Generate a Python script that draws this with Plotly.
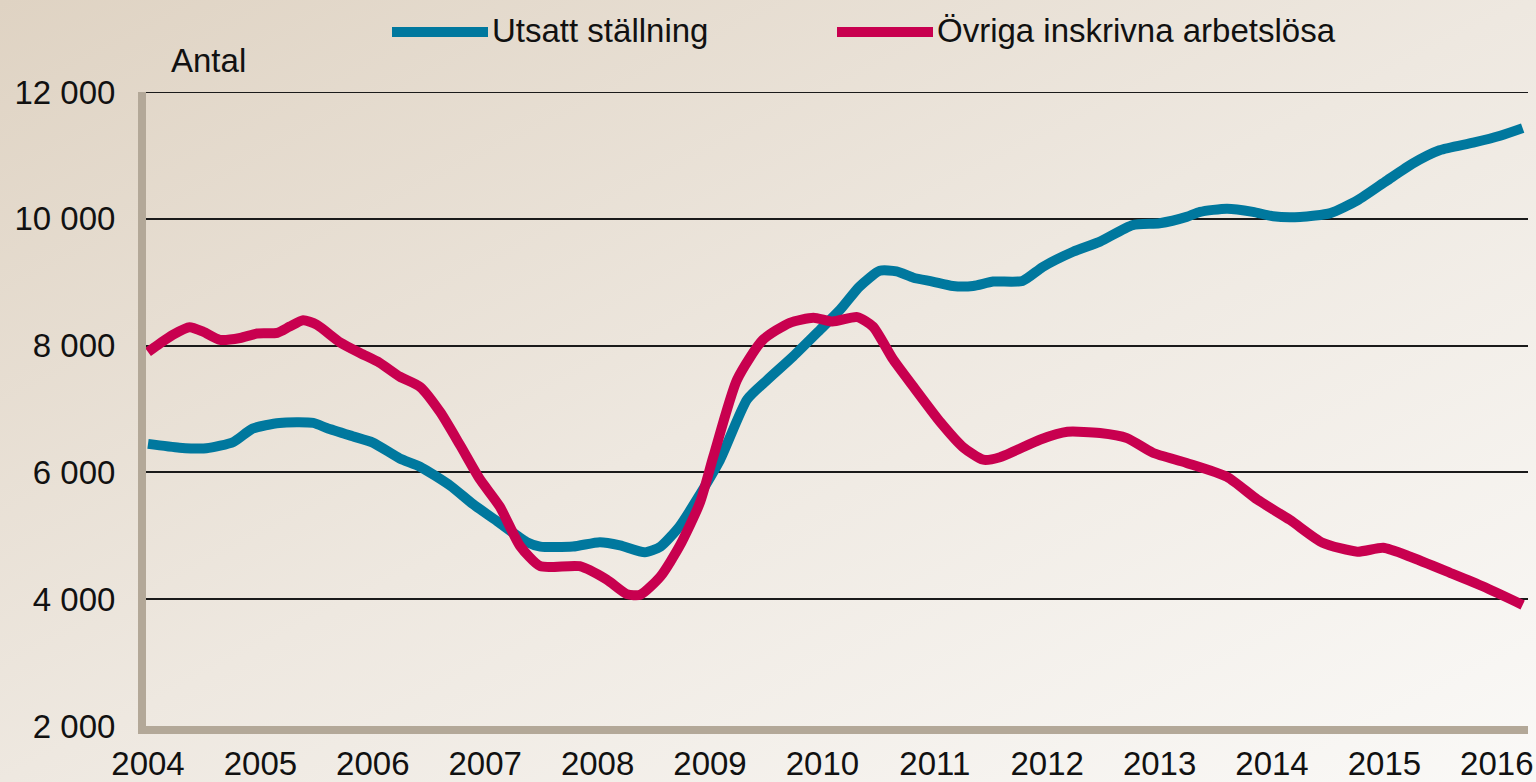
import base64

import plotly.graph_objects as go

# decimal years
utsatt_t = [2004.00, 2004.28, 2004.52, 2004.76, 2004.93, 2005.17, 2005.47, 2005.59, 2005.82, 2006.00,
            2006.24, 2006.42, 2006.69, 2006.89, 2007.13, 2007.37, 2007.49, 2007.78, 2008.02, 2008.20,
            2008.42, 2008.56, 2008.73, 2008.91, 2009.09, 2009.33, 2009.51, 2009.74, 2009.98, 2010.16,
            2010.33, 2010.51, 2010.66, 2010.81, 2010.98, 2011.16, 2011.34, 2011.52, 2011.78, 2011.96,
            2012.23, 2012.47, 2012.76, 2013.00, 2013.24, 2013.36, 2013.60, 2013.83, 2014.01, 2014.25,
            2014.52, 2014.76, 2015.02, 2015.25, 2015.49, 2015.79, 2016.03, 2016.23]
utsatt_v = [6450, 6390, 6380, 6480, 6690, 6780, 6780, 6700, 6570, 6470,
            6220, 6090, 5790, 5500, 5200, 4900, 4830, 4830, 4900, 4850,
            4740, 4830, 5150, 5650, 6200, 7150, 7460, 7830, 8250, 8570,
            8930, 9180, 9170, 9070, 9010, 8940, 8940, 9010, 9020, 9240,
            9480, 9640, 9900, 9930, 10030, 10110, 10160, 10110, 10040, 10030,
            10090, 10290, 10600, 10870, 11080, 11200, 11310, 11430]

ovriga_t = [2004.00, 2004.11, 2004.22, 2004.37, 2004.49, 2004.64, 2004.82, 2004.97, 2005.15, 2005.26,
            2005.38, 2005.50, 2005.71, 2005.89, 2006.06, 2006.24, 2006.42, 2006.60, 2006.78, 2006.95,
            2007.13, 2007.31, 2007.49, 2007.84, 2008.08, 2008.26, 2008.38, 2008.56, 2008.73, 2008.91,
            2009.03, 2009.24, 2009.47, 2009.71, 2009.92, 2010.09, 2010.31, 2010.45, 2010.63, 2010.81,
            2011.05, 2011.25, 2011.43, 2011.58, 2011.94, 2012.18, 2012.47, 2012.71, 2012.94, 2013.24,
            2013.60, 2013.87, 2014.16, 2014.45, 2014.76, 2014.99, 2015.23, 2015.58, 2015.88, 2016.23]
ovriga_v = [7900, 8040, 8170, 8290, 8220, 8090, 8120, 8190, 8200, 8300,
            8400, 8330, 8050, 7880, 7730, 7510, 7350, 6950, 6420, 5900,
            5460, 4840, 4520, 4520, 4310, 4080, 4070, 4360, 4840, 5520,
            6250, 7460, 8090, 8360, 8440, 8380, 8450, 8300, 7780, 7350,
            6790, 6400, 6200, 6240, 6520, 6640, 6620, 6540, 6310, 6150,
            5930, 5570, 5250, 4890, 4750, 4810, 4670, 4420, 4200, 3910]

years = list(range(2004, 2017))
y_ticks = [2000, 4000, 6000, 8000, 10000, 12000]

BLUE = "#00789e"
RED = "#c8004f"
FONT = "Liberation Sans, Arial, sans-serif"
FS = 33

W, H = 1536, 782
ML, MR, MT, MB = 146, 8, 92, 56
PW, PH = W - ML - MR, H - MT - MB

bg_svg = (
    f'<svg xmlns="http://www.w3.org/2000/svg" width="{W}" height="{H}">'
    '<defs><linearGradient id="g" x1="0" y1="0" x2="1" y2="1">'
    '<stop offset="0" stop-color="#dfd3c3"/>'
    '<stop offset="0.5" stop-color="#eee8e0"/>'
    '<stop offset="1" stop-color="#faf9f7"/>'
    '</linearGradient></defs>'
    f'<rect width="{W}" height="{H}" fill="url(#g)"/></svg>'
)
bg_src = "data:image/svg+xml;base64," + base64.b64encode(bg_svg.encode()).decode()


def px_x(p):
    return (p - ML) / PW


def px_y(p):
    return (H - MB - p) / PH


fig = go.Figure()
fig.add_trace(go.Scatter(x=utsatt_t, y=utsatt_v, mode="lines", name="Utsatt ställning",
                         line=dict(color=BLUE, width=10, shape="spline", smoothing=0.6)))
fig.add_trace(go.Scatter(x=ovriga_t, y=ovriga_v, mode="lines", name="Övriga inskrivna arbetslösa",
                         line=dict(color=RED, width=10, shape="spline", smoothing=0.6)))

# hand-made legend to get the long, thick line keys
for x0, x1, col, label in [(392, 488, BLUE, "Utsatt ställning"),
                           (837, 933, RED, "Övriga inskrivna arbetslösa")]:
    fig.add_shape(type="line", xref="paper", yref="paper", x0=px_x(x0), x1=px_x(x1),
                  y0=px_y(32), y1=px_y(32), line=dict(color=col, width=10))
    fig.add_annotation(xref="paper", yref="paper", x=px_x(x1 + 2), y=px_y(31), text=label,
                       showarrow=False, xanchor="left", yanchor="middle",
                       font=dict(size=FS, color="#111111", family=FONT))

fig.add_annotation(xref="paper", yref="paper", x=px_x(169), y=px_y(60), text="Antal",
                   showarrow=False, xanchor="left", yanchor="middle",
                   font=dict(size=FS, color="#111111", family=FONT))

# top gridline sits on the plot edge, draw it explicitly
fig.add_shape(type="line", xref="paper", yref="y", x0=0, x1=1, y0=12000, y1=12000,
              line=dict(color="#1a1a1a", width=2), layer="below")

fig.add_layout_image(source=bg_src, xref="paper", yref="paper", x=-ML / PW, y=1 + MT / PH,
                     sizex=W / PW, sizey=H / PH, sizing="stretch", layer="below",
                     xanchor="left", yanchor="top")

fig.update_layout(
    width=W,
    height=H,
    margin=dict(l=ML, r=MR, t=MT, b=MB, autoexpand=False),
    paper_bgcolor="#ede7df",
    plot_bgcolor="rgba(0,0,0,0)",
    showlegend=False,
    separators=", ",
    font=dict(family=FONT, size=FS, color="#111111"),
)
fig.update_xaxes(
    range=[2004 - 2 / 112.4, 2004 + 1380 / 112.4],
    tickvals=years,
    ticktext=[str(y) for y in years],
    showgrid=False,
    zeroline=False,
    showline=True,
    linecolor="#b3a898",
    linewidth=8,
    ticks="",
    ticklabelstandoff=1,
    automargin=False,
)
fig.update_yaxes(
    range=[2000, 12000],
    tickvals=y_ticks,
    tickformat=",d",
    showgrid=True,
    gridcolor="#1a1a1a",
    gridwidth=2,
    zeroline=False,
    showline=True,
    linecolor="#b3a898",
    linewidth=8,
    ticks="",
    ticklabelstandoff=16,
    automargin=False,
)

fig.write_html(
    "out.html",
    config={"displayModeBar": False},
    post_script="document.body.style.margin='0';document.body.style.overflow='hidden';",
)
